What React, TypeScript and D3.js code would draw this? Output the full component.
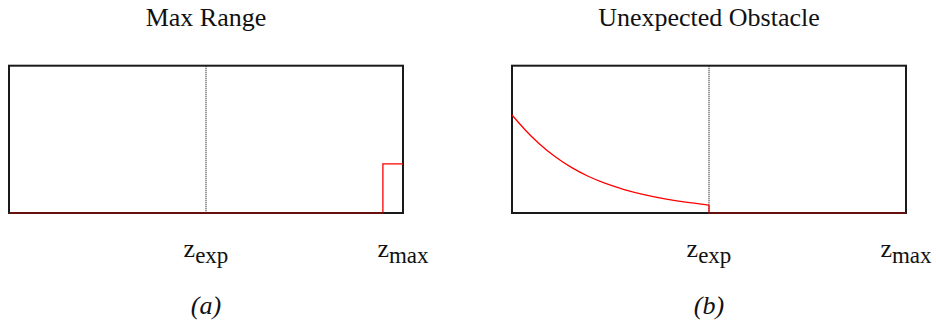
import React from "react";
import * as d3 from "d3";

// Normalised range axis: 0 = sensor, 1 = z_max; z_exp sits at the middle.
const Z_EXP = 0.5;
const Z_MAX = 1;

// Max-range reading: a narrow uniform band just below z_max.
const maxRangeZ = [0, 0.949, 0.949, 1];
const maxRangeP = [0, 0, 0.333, 0.333];

// Unexpected obstacle: decaying density up to z_exp, zero afterwards.
const shortZ = [0, 0.033, 0.066, 0.109, 0.152, 0.193, 0.236, 0.287, 0.338, 0.388, 0.439, 0.5];
const shortP = [0.665, 0.563, 0.475, 0.38, 0.305, 0.248, 0.2, 0.156, 0.122, 0.095, 0.073, 0.054];
const shortTailZ = [0.5, 0.5, 1];
const shortTailP = [0.054, 0, 0];

const titles = ["Max Range", "Unexpected Obstacle"];
const captions = ["(a)", "(b)"];
const tickLabels = [
  { z: Z_EXP, base: "z", sub: "exp" },
  { z: Z_MAX, base: "z", sub: "max" },
];

const W = 936;
const H = 327;
const panelW = 394;
const panelLefts = [9, 512];
const top = 65.7;
const bottom = 213;
const FONT = "'Liberation Serif', 'Times New Roman', serif";

type Series = { z: number[]; p: number[]; curve: d3.CurveFactory };

function Panel({ left, title, caption, series }: { left: number; title: string; caption: string; series: Series[] }) {
  const x = d3.scaleLinear().domain([0, Z_MAX]).range([left, left + panelW]);
  const y = d3.scaleLinear().domain([0, 1]).range([bottom, top]);
  const cx = x(Z_EXP);

  return (
    <g>
      <text x={cx} y={26} textAnchor="middle" fontFamily={FONT} fontSize={26} fill="#111">
        {title}
      </text>
      <rect x={x(0)} y={y(1)} width={x(Z_MAX) - x(0)} height={y(0) - y(1)} fill="none" stroke="#1a1a1a" strokeWidth={2} />
      <line x1={cx} x2={cx} y1={y(1)} y2={y(0)} stroke="#222" strokeWidth={1.2} strokeDasharray="1 1" />
      {series.map((s, i) => {
        const line = d3
          .line<number>()
          .x((_, j) => x(s.z[j]))
          .y((_, j) => y(s.p[j]))
          .curve(s.curve);
        return <path key={i} d={line(s.p) ?? ""} fill="none" stroke="#ff0000" strokeWidth={1.3} />;
      })}
      {/* baseline drawn again over the red trace so the shared edge reads dark red */}
      <line x1={x(0)} x2={x(Z_MAX)} y1={y(0)} y2={y(0)} stroke="#1a1a1a" strokeOpacity={0.55} strokeWidth={2} />
      {tickLabels.map((t, i) => (
        <text key={i} x={x(t.z)} y={257} textAnchor="middle" fontFamily={FONT} fontSize={26} fill="#111">
          {t.base}
          <tspan dy={6} fontSize={23}>
            {t.sub}
          </tspan>
        </text>
      ))}
      <text x={cx} y={314} textAnchor="middle" fontFamily={FONT} fontStyle="italic" fontSize={26} fill="#111">
        {caption}
      </text>
    </g>
  );
}

export default function App() {
  const panels: Series[][] = [
    [{ z: maxRangeZ, p: maxRangeP, curve: d3.curveLinear }],
    [
      { z: shortZ, p: shortP, curve: d3.curveBasis },
      { z: shortTailZ, p: shortTailP, curve: d3.curveLinear },
    ],
  ];
  return (
    <svg width={W} height={H} style={{ position: "absolute", left: 0, top: 0, background: "#fff" }}>
      {panels.map((s, i) => (
        <Panel key={i} left={panelLefts[i]} title={titles[i]} caption={captions[i]} series={s} />
      ))}
    </svg>
  );
}
